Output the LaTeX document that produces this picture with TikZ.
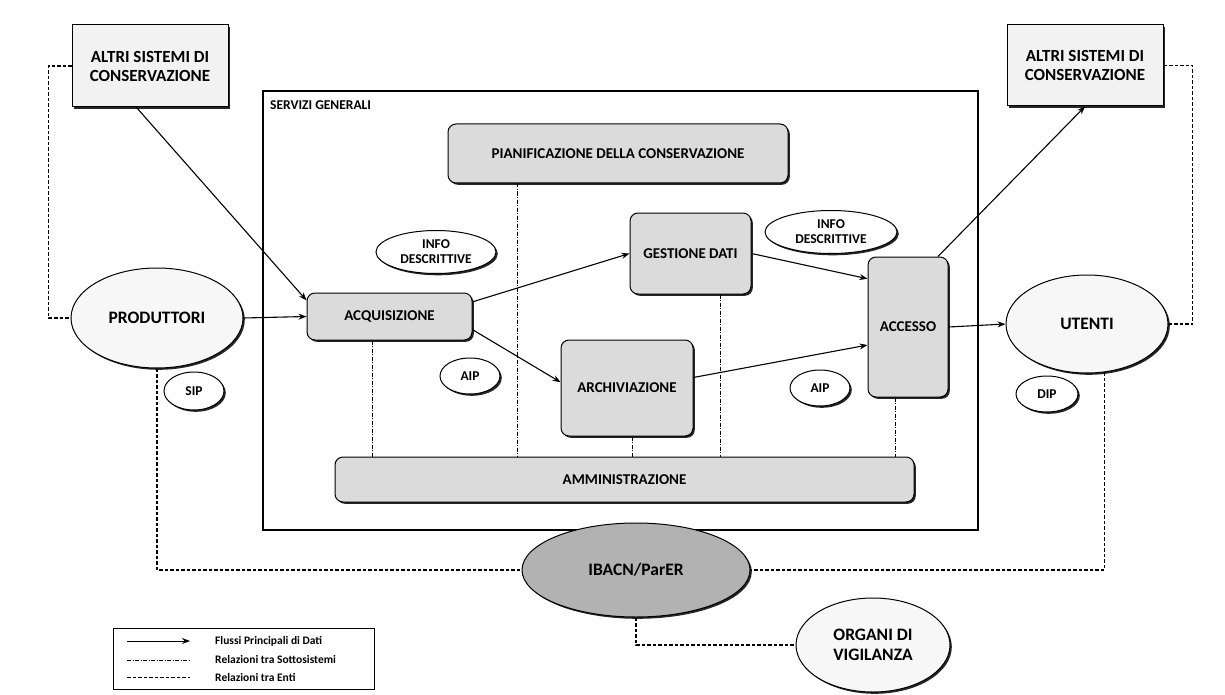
\documentclass[tikz,border=0pt]{standalone}
\usepackage{fontspec}
\setmainfont{Carlito}
\usetikzlibrary{shapes.geometric,shadows,arrows.meta}
\begin{document}
\begin{tikzpicture}[x=1pt,y=-1pt,
 sh/.style={drop shadow={shadow xshift=1.8pt,shadow yshift=-1.8pt,opacity=0.85,fill=black}},
 sysbox/.style={draw,line width=1pt,fill=gray!10,sh,align=center,inner sep=0pt,font=\bfseries\fontsize{17}{19}\selectfont},
 proc/.style={draw,line width=1pt,rounded corners=8pt,fill=gray!28,sh,align=center,inner sep=0pt,font=\bfseries\fontsize{15}{17}\selectfont},
 ent/.style={ellipse,draw,line width=1pt,fill=gray!6,sh,align=center,inner sep=0pt,font=\bfseries\fontsize{17.5}{20}\selectfont},
 tag/.style={ellipse,draw,line width=1pt,fill=white,sh,align=center,inner sep=0pt,font=\bfseries\fontsize{13.5}{15}\selectfont},
 flow/.style={line width=1.1pt,-{Stealth[length=8pt,width=6pt]}},
 sub/.style={line width=0.8pt,dash pattern=on 4pt off 1.5pt on 1pt off 1.5pt},
 enti/.style={line width=1.1pt,dash pattern=on 3.5pt off 2pt},
 legtext/.style={anchor=west,inner sep=0pt,font=\bfseries\fontsize{11.5}{13}\selectfont},
]
\fill[white] (0,0) rectangle (1225,695);
\useasboundingbox (0,0) rectangle (1225,695);

% general services frame
\node[draw,line width=1.3pt,minimum width=715pt,minimum height=439pt,inner sep=0pt] (serv) at (620.5,310.5) {};
\node[anchor=north west,inner sep=0pt,font=\bfseries\fontsize{13.5}{15}\selectfont] (servlbl) at (270,100) {SERVIZI GENERALI};

% external systems
\node[sysbox,minimum width=156pt,minimum height=82pt] (altriL) at (150,66) {ALTRI SISTEMI DI\\CONSERVAZIONE};
\node[sysbox,minimum width=156pt,minimum height=81pt] (altriR) at (1085,65.5) {ALTRI SISTEMI DI\\CONSERVAZIONE};

% processes
\node[proc,minimum width=340pt,minimum height=59pt] (pian) at (618,153.5) {PIANIFICAZIONE DELLA CONSERVAZIONE};
\node[proc,minimum width=121pt,minimum height=81pt] (gest) at (690.5,253.5) {GESTIONE DATI};
\node[proc,minimum width=165pt,minimum height=47pt] (acq) at (389.5,316.5) {ACQUISIZIONE};
\node[proc,minimum width=132pt,minimum height=96pt] (arch) at (627,388) {ARCHIVIAZIONE};
\node[proc,minimum width=80pt,minimum height=140pt] (acc) at (908,327) {ACCESSO};
\node[proc,minimum width=579pt,minimum height=45pt] (amm) at (624.5,479.5) {AMMINISTRAZIONE};

% entities
\node[ent,minimum width=172pt,minimum height=100pt] (prod) at (157,318) {PRODUTTORI};
\node[ent,minimum width=162pt,minimum height=98pt] (ut) at (1087,324) {UTENTI};
\node[ent,fill=gray!60,minimum width=228pt,minimum height=94pt] (ib) at (636,570) {IBACN/ParER};
\node[ent,minimum width=154pt,minimum height=94pt] (org) at (873,645) {ORGANI DI\\VIGILANZA};

% tags
\node[tag,minimum width=120pt,minimum height=43pt] (info1) at (436,252) {INFO\\DESCRITTIVE};
\node[tag,minimum width=132pt,minimum height=43pt] (info2) at (831,232) {INFO\\DESCRITTIVE};
\node[tag,minimum width=60pt,minimum height=36pt] (aip1) at (470,376) {AIP};
\node[tag,minimum width=60pt,minimum height=36pt] (aip2) at (820,388) {AIP};
\node[tag,minimum width=60pt,minimum height=38pt] (sip) at (194,391) {SIP};
\node[tag,minimum width=62pt,minimum height=36pt] (dip) at (1047,394) {DIP};

% relations between subsystems
\draw[sub] ([xshift=-17pt]acq.south) -- ([xshift=-17pt]acq.south |- amm.north);
\draw[sub] ([xshift=-101pt]pian.south) -- ([xshift=-101pt]pian.south |- amm.north);
\draw[sub] ([xshift=5pt]arch.south) -- ([xshift=5pt]arch.south |- amm.north);
\draw[sub] ([xshift=30pt]gest.south) -- ([xshift=30pt]gest.south |- amm.north);
\draw[sub] ([xshift=-13pt]acc.south) -- ([xshift=-13pt]acc.south |- amm.north);

% relations between entities
\draw[enti] (altriL.west) -- ++(-23,0) |- (prod.west);
\draw[enti] (altriR.east) -- ++(29,0) |- (ut.east);
\draw[enti] (prod.south) |- (ib.west);
\draw[enti] (ut.-70) |- (ib.east);
\draw[enti] (ib.south) |- (org.west);

% main data flows
\draw[flow] (altriL.252) -- (acq.169);
\draw[flow] (prod.east) -- (acq.west);
\draw[flow] (acq.10) -- (gest.west);
\draw[flow] (acq.-9) -- (arch.175);
\draw[flow] (gest.east) -- (acc.130);
\draw[flow] (arch.9) -- (acc.204);
\draw[flow] (acc.east) -- (ut.west);
\draw[flow] (acc.67) -- (altriR.south);

% legend
\node[draw,line width=1pt,minimum width=261pt,minimum height=61pt,inner sep=0pt] (leg) at (243.5,658.5) {};
\coordinate (l1a) at (127,641); \coordinate (l1b) at (190,641);
\coordinate (l2a) at (127,660); \coordinate (l2b) at (190,660);
\coordinate (l3a) at (127,677); \coordinate (l3b) at (190,677);
\draw[flow,line width=0.9pt] (l1a) -- (l1b);
\draw[sub] (l2a) -- (l2b);
\draw[enti,line width=0.9pt] (l3a) -- (l3b);
\node[legtext] (t1) at (215,641) {Flussi Principali di Dati};
\node[legtext] (t2) at (215,660) {Relazioni tra Sottosistemi};
\node[legtext] (t3) at (215,677) {Relazioni tra Enti};
\end{tikzpicture}
\end{document}
